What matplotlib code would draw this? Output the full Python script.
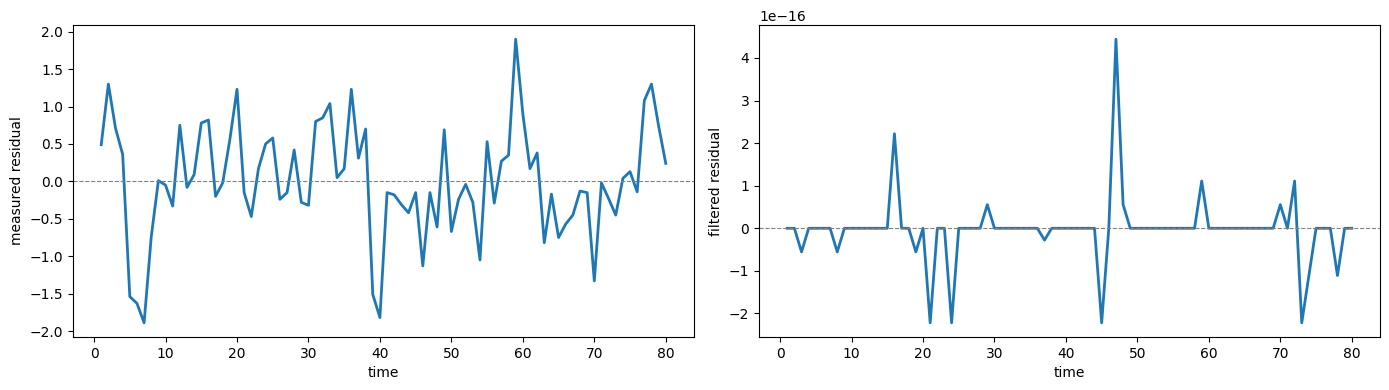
import numpy as np
from matplotlib import pyplot as plt

time = np.arange(1, 81)

measured = [0.49, 1.30, 0.71, 0.36, -1.54, -1.63, -1.89, -0.74, 0.01, -0.05,
            -0.33, 0.75, -0.08, 0.09, 0.78, 0.82, -0.20, -0.02, 0.56, 1.23,
            -0.15, -0.47, 0.17, 0.50, 0.58, -0.24, -0.15, 0.42, -0.28, -0.32,
            0.80, 0.85, 1.04, 0.05, 0.17, 1.23, 0.31, 0.70, -1.51, -1.82,
            -0.15, -0.18, -0.31, -0.42, -0.15, -1.13, -0.15, -0.61, 0.69, -0.67,
            -0.24, -0.04, -0.28, -1.05, 0.53, -0.29, 0.27, 0.35, 1.90, 0.90,
            0.17, 0.38, -0.82, -0.17, -0.75, -0.57, -0.45, -0.13, -0.15, -1.33,
            -0.02, -0.23, -0.45, 0.04, 0.13, -0.14, 1.08, 1.30, 0.74, 0.24]

# in units of 1e-16
filtered = [0, 0, -0.555, 0, 0, 0, 0, -0.555, 0, 0,
            0, 0, 0, 0, 0, 2.22, 0, 0, -0.555, 0,
            -2.22, 0, 0, -2.22, 0, 0, 0, 0, 0.555, 0,
            0, 0, 0, 0, 0, 0, -0.2776, 0, 0, 0,
            0, 0, 0, 0, -2.22, 0, 4.44, 0.555, 0, 0,
            0, 0, 0, 0, 0, 0, 0, 0, 1.11, 0,
            0, 0, 0, 0, 0, 0, 0, 0, 0, 0.555,
            0, 1.11, -2.22, -1.11, 0, 0, 0, -1.11, 0, 0]
filtered = np.array(filtered) * 1e-16

fig, axes = plt.subplots(1, 2, figsize=(13.89, 3.9), dpi=100)
fig.subplots_adjust(left=73/1389, right=1380/1389, top=1-25/390,
                    bottom=1-337/390, wspace=0.1047)

ax = axes[0]
ax.plot(time, measured, color='C0', lw=2)
ax.axhline(0, color='gray', ls='--', lw=0.8)
ax.set_xlabel('time')
ax.set_ylabel('measured residual')

ax = axes[1]
ax.plot(time, filtered, color='C0', lw=2)
ax.axhline(0, color='gray', ls='--', lw=0.8)
ax.set_xlabel('time')
ax.set_ylabel('filtered residual')

plt.savefig('out.png')
